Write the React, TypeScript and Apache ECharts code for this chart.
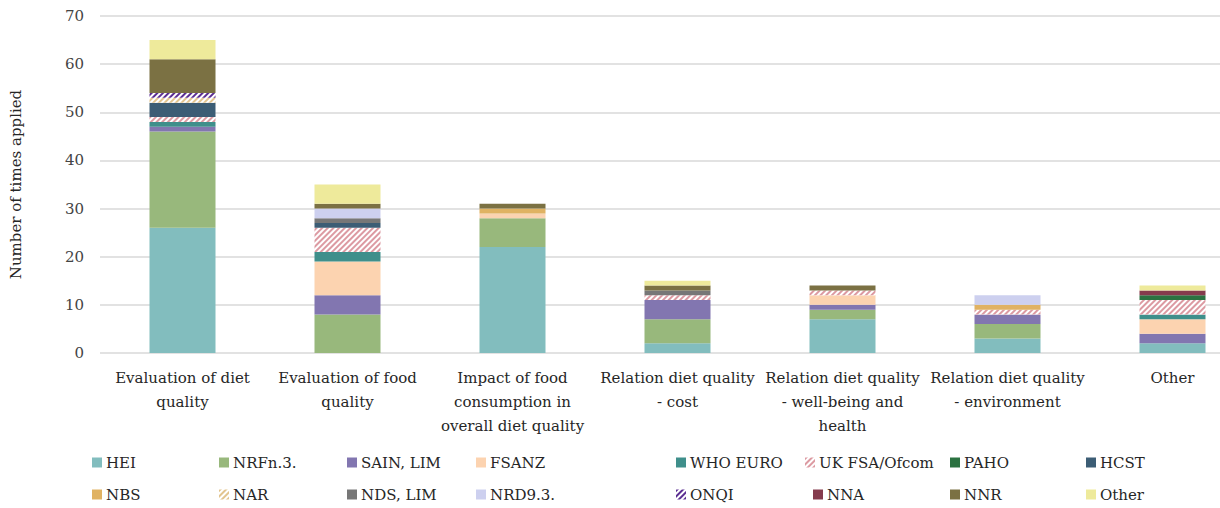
import React, { useEffect, useRef } from "react";
import * as echarts from "echarts";

const categories = [
  "Evaluation of diet\nquality",
  "Evaluation of food\nquality",
  "Impact of food\nconsumption in\noverall diet quality",
  "Relation diet quality\n- cost",
  "Relation diet quality\n- well-being and\nhealth",
  "Relation diet quality\n- environment",
  "Other",
];

const seriesNames = [
  "HEI", "NRFn.3.", "SAIN, LIM", "FSANZ", "WHO EURO", "UK FSA/Ofcom", "PAHO", "HCST",
  "NBS", "NAR", "NDS, LIM", "NRD9.3.", "ONQI", "NNA", "NNR", "Other",
];

const HEI = [26, 0, 22, 2, 7, 3, 2];
const NRF = [20, 8, 6, 5, 2, 3, 0];
const SAIN = [1, 4, 0, 4, 1, 2, 2];
const FSANZ = [0, 7, 1, 0, 2, 0, 3];
const WHO = [1, 2, 0, 0, 0, 0, 1];
const UKFSA = [1, 5, 0, 1, 1, 1, 3];
const PAHO = [0, 0, 0, 0, 0, 0, 1];
const HCST = [3, 1, 0, 0, 0, 0, 0];
const NBS = [0, 0, 1, 0, 0, 1, 0];
const NAR = [1, 0, 0, 0, 0, 0, 0];
const NDS = [0, 1, 0, 1, 0, 0, 0];
const NRD = [0, 2, 0, 0, 0, 2, 0];
const ONQI = [1, 0, 0, 0, 0, 0, 0];
const NNA = [0, 0, 0, 0, 0, 0, 1];
const NNR = [7, 1, 1, 1, 1, 0, 0];
const OTHER = [4, 4, 0, 1, 0, 0, 1];

const values = [HEI, NRF, SAIN, FSANZ, WHO, UKFSA, PAHO, HCST, NBS, NAR, NDS, NRD, ONQI, NNA, NNR, OTHER];

const colors = [
  "#82bdbe", "#98b87c", "#8276b0", "#fcd3b0", "#3f8f8b", "#ffffff", "#2b7241", "#3c5d75",
  "#e0b262", "#ffffff", "#777777", "#cdd0ef", "#ffffff", "#853b4d", "#7b7143", "#eeea9b",
];
const hatch: Record<string, string> = {
  "UK FSA/Ofcom": "#dc9aa2",
  NAR: "#e2c48e",
  ONQI: "#5b2e92",
};

// legend icon positions (layout)
const legendLeft = [92, 219, 347, 476, 676, 805, 950, 1086, 92, 219, 347, 476, 676, 813, 950, 1086];

const FONT = "'DejaVu Serif', serif";

export default function App() {
  const ref = useRef<HTMLDivElement>(null);
  useEffect(() => {
    if (!ref.current) return;
    const chart = echarts.init(ref.current, null, { renderer: "svg" });
    const series = seriesNames.map((name, i) => {
      const h = hatch[name];
      const itemStyle: any = { color: colors[i] };
      if (h) {
        itemStyle.decal = {
          symbol: "rect",
          symbolSize: 1,
          color: h,
          dashArrayX: [1, 0],
          dashArrayY: [2, 2],
          rotation: -Math.PI / 4,
        };
      }
      return {
        name,
        type: "bar",
        stack: "total",
        barWidth: 66,
        data: values[i],
        itemStyle,
      };
    });
    const legends = seriesNames.map((name, i) => ({
      data: [name],
      left: legendLeft[i],
      top: i < 8 ? 455 : 487,
      padding: 0,
      icon: "rect",
      itemWidth: 10,
      itemHeight: 10,
      itemGap: 5,
      selectedMode: false,
      textStyle: { fontFamily: FONT, fontSize: 15, color: "#262626", padding: [0, 0, 0, -1] },
    }));
    chart.setOption({
      animation: false,
      textStyle: { fontFamily: FONT },
      grid: { left: 100, width: 1155, top: 16, bottom: 155, outerBoundsMode: "none", containLabel: false },
      legend: legends,
      xAxis: {
        type: "category",
        data: categories,
        axisLine: { show: false },
        axisTick: { show: false },
        axisLabel: {
          interval: 0,
          margin: 13,
          fontFamily: FONT,
          fontSize: 15,
          lineHeight: 24,
          color: "#262626",
        },
      },
      yAxis: {
        type: "value",
        min: 0,
        max: 70,
        interval: 10,
        name: "Number of times applied",
        nameLocation: "middle",
        nameGap: 77,
        nameTextStyle: { fontFamily: FONT, fontSize: 15, color: "#262626" },
        axisLine: { show: false },
        axisTick: { show: false },
        axisLabel: { fontFamily: FONT, fontSize: 15, color: "#444", margin: 16 },
        splitLine: { lineStyle: { color: "#d9d9d9", width: 1.5 } },
      },
      series,
    });
    return () => chart.dispose();
  }, []);
  return (
    <div
      ref={ref}
      style={{ position: "absolute", left: 0, top: 0, width: 1220, height: 508, background: "#fff" }}
    />
  );
}
